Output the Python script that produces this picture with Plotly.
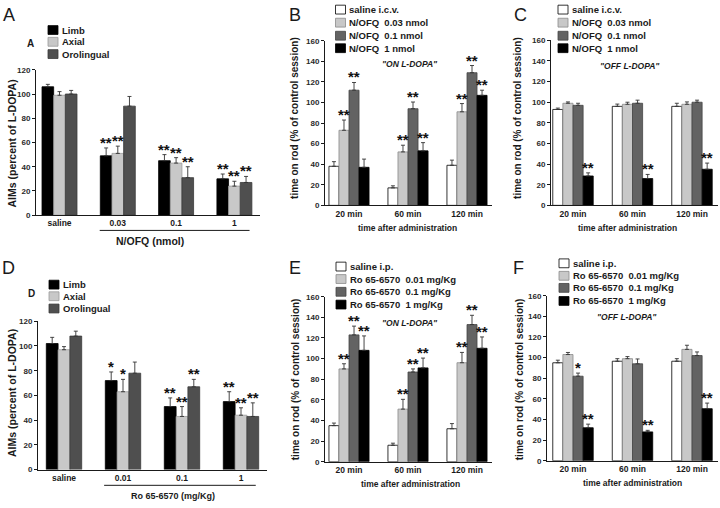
import plotly.graph_objects as go

W, H = 720, 508

# ---------------- data ----------------
# Panel A : AIMs after N/OFQ
a_groups = ["saline", "0.03", "0.1", "1"]
aims_series = ["Limb", "Axial", "Orolingual"]
a_limb = [106, 49, 45, 30]
a_limb_err = [2, 6.5, 5, 4]
a_axial = [99, 51, 43, 24]
a_axial_err = [3, 6, 4.5, 4]
a_oro = [100, 90, 31, 27]
a_oro_err = [3, 8, 9, 5]
a_limb_sig = ["", "**", "**", "**"]
a_axial_sig = ["", "**", "**", "**"]
a_oro_sig = ["", "", "**", "**"]

# Panel D : AIMs after Ro 65-6570
d_groups = ["saline", "0.01", "0.1", "1"]
d_limb = [102, 72, 51, 55]
d_limb_err = [5, 7, 7, 8]
d_axial = [97, 63, 43, 44]
d_axial_err = [2.5, 10, 8, 6]
d_oro = [108, 78, 67, 43]
d_oro_err = [4, 9, 6, 11]
d_limb_sig = ["", "*", "**", "**"]
d_axial_sig = ["", "*", "**", "**"]
d_oro_sig = ["", "", "**", "**"]

time_groups = ["20 min", "60 min", "120 min"]

# Panel B : rotarod ON L-DOPA, N/OFQ
nofq_series = ["saline i.c.v.", "N/OFQ\u00a0 0.03 nmol", "N/OFQ\u00a0 0.1 nmol", "N/OFQ\u00a0 1 nmol"]
b_sal = [38, 17, 39]
b_sal_err = [4.5, 2, 5]
b_low = [73, 52, 91]
b_low_err = [10, 6.5, 8]
b_mid = [112, 94, 129]
b_mid_err = [7.5, 6.5, 7]
b_high = [37, 53, 107]
b_high_err = [8, 8, 5]
b_sal_sig = ["", "", ""]
b_low_sig = ["**", "**", "**"]
b_mid_sig = ["**", "**", "**"]
b_high_sig = ["", "**", "**"]

# Panel C : rotarod OFF L-DOPA, N/OFQ
c_sal = [93, 96, 96]
c_sal_err = [1.3, 2.2, 3]
c_low = [99, 98, 98]
c_low_err = [1.3, 2, 2.3]
c_mid = [97, 99, 100]
c_mid_err = [2, 3, 2]
c_high = [28.5, 26, 35]
c_high_err = [3, 4, 6]
c_sal_sig = ["", "", ""]
c_low_sig = ["", "", ""]
c_mid_sig = ["", "", ""]
c_high_sig = ["**", "**", "**"]

# Panel E : rotarod ON L-DOPA, Ro 65-6570
ro_series = ["saline i.p.", "Ro 65-6570\u00a0 0.01 mg/Kg", "Ro 65-6570\u00a0 0.1 mg/Kg", "Ro 65-6570\u00a0 1 mg/Kg"]
e_sal = [35, 16, 32]
e_sal_err = [2.5, 2, 5]
e_low = [90, 51, 96]
e_low_err = [5, 9.5, 10]
e_mid = [123, 87, 133]
e_mid_err = [8.5, 3, 9]
e_high = [108, 91, 110]
e_high_err = [14, 9.5, 11]
e_sal_sig = ["", "", ""]
e_low_sig = ["**", "**", "**"]
e_mid_sig = ["**", "**", "**"]
e_high_sig = ["**", "**", "**"]

# Panel F : rotarod OFF L-DOPA, Ro 65-6570
f_sal = [95, 96.5, 96.5]
f_sal_err = [2.5, 2.5, 2.5]
f_low = [103, 99, 108]
f_low_err = [2, 2, 4]
f_mid = [82, 94, 102]
f_mid_err = [3, 4.7, 3.5]
f_high = [32, 28, 50.5]
f_high_err = [3.5, 1.5, 5.4]
f_sal_sig = ["", "", ""]
f_low_sig = ["", "", ""]
f_mid_sig = ["*", "", ""]
f_high_sig = ["**", "**", "**"]

# ---------------- style ----------------
FONT = "Liberation Sans"
INK = "#1a1a1a"
aims_colors = ["#000000", "#c8c8c8", "#4f4f4f"]
aims_lines = ["#000000", "#9a9a9a", "#3a3a3a"]
rod_colors = ["#ffffff", "#c8c8c8", "#636363", "#000000"]
rod_lines = ["#000000", "#8a8a8a", "#444444", "#000000"]


def px(x):
    return x / W


def py(y):
    return 1 - y / H


fig = go.Figure()

# panel geometry (pixels): x-domain, y pixel of 0 and of top value, group centre/spacing
panels = {
    "A": dict(ax="", xd=(36, 260), y0=215, yt=67, ymax=120, c0=59.5, sp=58.3),
    "B": dict(ax="2", xd=(325, 492), y0=205, yt=37.5, ymax=160, c0=349, sp=59),
    "C": dict(ax="3", xd=(551, 718), y0=205, yt=37, ymax=160, c0=573, sp=59.5),
    "D": dict(ax="4", xd=(38, 267), y0=474, yt=323, ymax=120, c0=64, sp=59),
    "E": dict(ax="5", xd=(325, 492), y0=466, yt=298, ymax=160, c0=349, sp=59),
    "F": dict(ax="6", xd=(547, 718), y0=465, yt=297, ymax=160, c0=573, sp=59.5),
}


def setup_axes(p, groups):
    ax = p["ax"]
    xr = [(p["xd"][0] - p["c0"]) / p["sp"], (p["xd"][1] - p["c0"]) / p["sp"]]
    fig.layout["xaxis" + ax] = dict(
        domain=[px(p["xd"][0]), px(p["xd"][1])], range=xr, anchor="y" + ax,
        tickvals=list(range(len(groups))), ticktext=groups, ticks="",
        showline=True, linecolor=INK, linewidth=1, showgrid=False, zeroline=False,
        tickfont=dict(family=FONT, size=8.5, color=INK, weight="bold"),
        fixedrange=True,
    )
    fig.layout["yaxis" + ax] = dict(
        domain=[py(p["y0"]), py(p["yt"])], range=[0, p["ymax"]], anchor="x" + ax,
        dtick=20, ticks="outside", ticklen=3, tickwidth=1, tickcolor=INK,
        showline=True, linecolor=INK, linewidth=1, showgrid=False, zeroline=False,
        tickfont=dict(family=FONT, size=8, color="#2a2a2a", weight="bold"),
        fixedrange=True,
    )


def add_bars(p, groups, vals_list, errs_list, sigs_list, colors, lines, gw):
    ax = p["ax"]
    n = len(vals_list)
    bw = gw / n
    xs = list(range(len(groups)))
    for i in range(n):
        off = -gw / 2 + i * bw
        fig.add_trace(go.Bar(
            x=xs, y=vals_list[i], width=bw, offset=off,
            marker=dict(color=colors[i], line=dict(color=lines[i], width=0.8)),
            error_y=dict(type="data", symmetric=False, array=errs_list[i],
                         arrayminus=[0] * len(xs), color="#333333",
                         thickness=0.9, width=2),
            xaxis="x" + ax, yaxis="y" + ax, showlegend=False,
        ))
        for j, s in enumerate(sigs_list[i]):
            if s:
                fig.add_annotation(
                    x=j + off + bw / 2, y=vals_list[i][j] + errs_list[i][j],
                    xref="x" + ax, yref="y" + ax, text=s, showarrow=False,
                    yanchor="bottom", yshift=-5,
                    font=dict(family=FONT, size=15, color="#111111", weight="bold"),
                )


def legend(x_sq, text_x, ys, labels, colors, lines, size):
    for yc, lab, c, lc in zip(ys, labels, colors, lines):
        fig.add_shape(type="rect", xref="paper", yref="paper",
                      x0=px(x_sq), x1=px(x_sq + 10), y0=py(yc + 4.5), y1=py(yc - 4.5),
                      fillcolor=c, line=dict(color=lc if c != "#ffffff" else "#000000", width=0.8))
        fig.add_annotation(x=px(text_x), y=py(yc), xref="paper", yref="paper",
                           text=lab, showarrow=False, xanchor="left", yanchor="middle",
                           font=dict(family=FONT, size=size, color=INK, weight="bold"))


def text(x, y, s, size, angle=0, bold=True, italic=False, xanchor="center"):
    fig.add_annotation(x=px(x), y=py(y), xref="paper", yref="paper", text=s,
                       showarrow=False, textangle=angle, xanchor=xanchor, yanchor="middle",
                       font=dict(family=FONT, size=size, color=INK,
                                 weight="bold" if bold else "normal",
                                 style="italic" if italic else "normal"))


# ---- Panel A ----
setup_axes(panels["A"], a_groups)
add_bars(panels["A"], a_groups, [a_limb, a_axial, a_oro], [a_limb_err, a_axial_err, a_oro_err],
         [a_limb_sig, a_axial_sig, a_oro_sig], aims_colors, aims_lines, 0.6)
# ---- Panel D ----
setup_axes(panels["D"], d_groups)
add_bars(panels["D"], d_groups, [d_limb, d_axial, d_oro], [d_limb_err, d_axial_err, d_oro_err],
         [d_limb_sig, d_axial_sig, d_oro_sig], aims_colors, aims_lines, 0.6)
# ---- Panel B ----
setup_axes(panels["B"], time_groups)
add_bars(panels["B"], time_groups, [b_sal, b_low, b_mid, b_high],
         [b_sal_err, b_low_err, b_mid_err, b_high_err],
         [b_sal_sig, b_low_sig, b_mid_sig, b_high_sig], rod_colors, rod_lines, 0.68)
# ---- Panel C ----
setup_axes(panels["C"], time_groups)
add_bars(panels["C"], time_groups, [c_sal, c_low, c_mid, c_high],
         [c_sal_err, c_low_err, c_mid_err, c_high_err],
         [c_sal_sig, c_low_sig, c_mid_sig, c_high_sig], rod_colors, rod_lines, 0.68)
# ---- Panel E ----
setup_axes(panels["E"], time_groups)
add_bars(panels["E"], time_groups, [e_sal, e_low, e_mid, e_high],
         [e_sal_err, e_low_err, e_mid_err, e_high_err],
         [e_sal_sig, e_low_sig, e_mid_sig, e_high_sig], rod_colors, rod_lines, 0.68)
# ---- Panel F ----
setup_axes(panels["F"], time_groups)
add_bars(panels["F"], time_groups, [f_sal, f_low, f_mid, f_high],
         [f_sal_err, f_low_err, f_mid_err, f_high_err],
         [f_sal_sig, f_low_sig, f_mid_sig, f_high_sig], rod_colors, rod_lines, 0.68)

# ---- legends ----
legend(48, 60, [26.5, 38.5, 51], aims_series, aims_colors, aims_lines, 9.5)
legend(49, 61, [285.7, 297.5, 310], aims_series, aims_colors, aims_lines, 9.5)
legend(335.5, 347, [5.7, 19, 32.3, 45], nofq_series, rod_colors, rod_lines, 9.5)
legend(558, 570, [5.7, 19, 32.3, 45], nofq_series, rod_colors, rod_lines, 9.5)
legend(336, 347.5, [267.3, 280, 293, 306], ro_series, rod_colors, rod_lines, 9.5)
legend(559, 570.5, [264, 276.7, 289, 302.3], ro_series, rod_colors, rod_lines, 9.5)

# ---- panel letters ----
for lab, (x, y) in {"A": (9, 11), "B": (295, 11), "C": (520, 11),
                    "D": (8, 269), "E": (295, 269), "F": (518, 269)}.items():
    text(x, y, lab, 18, bold=False)
text(30.5, 40, "A", 10)
text(31.5, 294.5, "D", 10)

# ---- axis titles ----
text(12, 142, "AIMs (percent of L-DOPA)", 10.5, angle=-90)
text(12, 396, "AIMs (percent of L-DOPA)", 10.5, angle=-90)
text(295, 116, "time on rod (% of control session)", 10, angle=-90)
text(518, 116, "time on rod (% of control session)", 10, angle=-90)
text(295, 382, "time on rod (% of control session)", 10, angle=-90)
text(519, 382, "time on rod (% of control session)", 10, angle=-90)
text(407, 228, "time after administration", 8.5)
text(627, 228, "time after administration", 8.5)
text(410, 489, "time after administration", 8.5)
text(632, 488, "time after administration", 8.5)
text(150, 241, "N/OFQ (nmol)", 10.5)
text(173, 501, "Ro 65-6570 (mg/Kg)", 9)

# ---- condition labels ----
text(410, 61, "\"ON L-DOPA\"", 8.5, italic=True)
text(630, 63, "\"OFF L-DOPA\"", 8.5, italic=True)
text(410, 325, "\"ON L-DOPA\"", 8.5, italic=True)
text(627, 319, "\"OFF L-DOPA\"", 8.5, italic=True)

# ---- dose brackets under treatment groups ----
fig.add_shape(type="line", xref="x", yref="paper", x0=0.69, x1=3.26, y0=py(230.5), y1=py(230.5),
              line=dict(color=INK, width=1))
fig.add_shape(type="line", xref="x4", yref="paper", x0=0.68, x1=3.25, y0=py(490), y1=py(490),
              line=dict(color=INK, width=1))

fig.update_layout(
    width=W, height=H, margin=dict(l=0, r=0, t=0, b=0),
    paper_bgcolor="white", plot_bgcolor="white", barmode="overlay",
    font=dict(family=FONT, color=INK), showlegend=False,
)

fig.write_html("out.html", config={"displayModeBar": False, "staticPlot": True})

# remove the browser's default page margin so the figure sits at (0, 0)
with open("out.html", encoding="utf-8") as fh:
    html = fh.read()
html = html.replace("<body>", '<body style="margin:0;padding:0;overflow:hidden">', 1)
with open("out.html", "w", encoding="utf-8") as fh:
    fh.write(html)
